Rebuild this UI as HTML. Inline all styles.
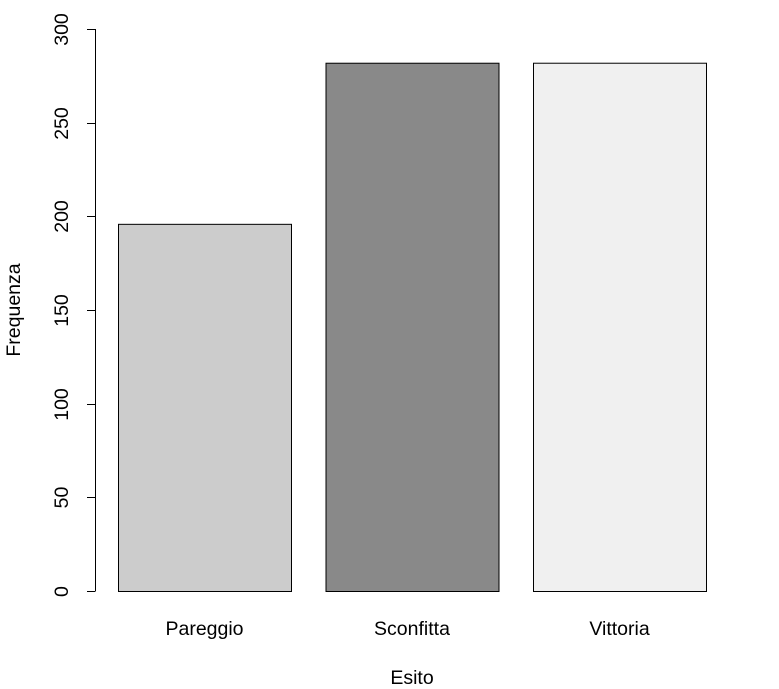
<!DOCTYPE html>
<html><head><meta charset="utf-8"><style>
body{margin:0;background:#fff;}
svg{display:block;font-family:"Liberation Sans",Arial,sans-serif;}
</style></head><body>
<svg id="chart" width="779" height="689"></svg>
<script>
const categories=["Pareggio","Sconfitta","Vittoria"];
const values=[196,282,282];
const fills=["#cccccc","#898989","#f0f0f0"];
const yTicks=[0,50,100,150,200,250,300];
const NS="http://www.w3.org/2000/svg";
const svg=document.getElementById('chart');
const FS=19.5;
function y(v){return 591-(v/300)*562;}
function xLeft(i){return 118+i*207.5;}
const bw=173;
function mk(tag,attrs,text){const e=document.createElementNS(NS,tag);for(const k in attrs)e.setAttribute(k,attrs[k]);if(text!==undefined)e.textContent=text;svg.appendChild(e);return e;}
categories.forEach((c,i)=>{
  const r=mk('rect',{x:xLeft(i)+0.5,y:y(values[i])+0.5,width:bw,height:591-y(values[i]),fill:fills[i],stroke:'#000','stroke-width':1});
  
  
  const t=mk('text',{x:xLeft(i)+bw/2,y:635,'text-anchor':'middle','font-size':FS,fill:'#000'},c);
  
  
});
const ax=mk('line',{x1:95.5,x2:95.5,y1:y(300),y2:y(0),stroke:'#000'});


yTicks.forEach(v=>{
  const yy=Math.round(y(v))+0.5;
  const tk=mk('line',{x1:87,x2:95.5,y1:yy,y2:yy,stroke:'#000'});
  
  
  const t=mk('text',{x:68,y:yy,'text-anchor':'middle','font-size':FS,transform:`rotate(-90 68 ${yy})`},String(v));
  
  
});
const yt=mk('text',{x:20,y:310,'text-anchor':'middle','font-size':FS,transform:'rotate(-90 20 310)'},'Frequenza');


const xt=mk('text',{x:412,y:684,'text-anchor':'middle','font-size':FS},'Esito');


</script>
</body></html>
